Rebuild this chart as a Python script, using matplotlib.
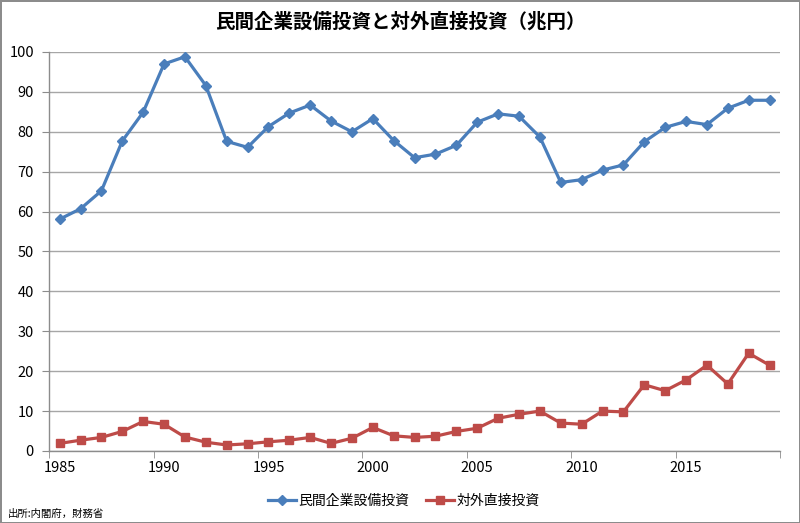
import matplotlib
matplotlib.use("Agg")
import matplotlib.pyplot as plt
import numpy as np

years = list(range(1985, 2020))

capex = [58.1, 60.7, 65.2, 77.7, 84.9, 97.0, 98.8, 91.6, 77.6, 76.1,
         81.3, 84.7, 86.7, 82.7, 80.0, 83.3, 77.8, 73.5, 74.4, 76.6,
         82.4, 84.5, 83.9, 78.7, 67.3, 68.0, 70.4, 71.7, 77.5, 81.1,
         82.6, 81.8, 85.9, 87.9, 87.9]

fdi = [1.9, 2.7, 3.4, 4.9, 7.4, 6.7, 3.5, 2.2, 1.5, 1.8,
       2.3, 2.7, 3.4, 1.9, 3.2, 5.9, 3.8, 3.4, 3.7, 4.9,
       5.7, 8.2, 9.2, 10.0, 7.0, 6.7, 10.0, 9.8, 16.6, 15.1,
       17.8, 21.5, 16.8, 24.5, 21.5]

label_years = [1985, 1990, 1995, 2000, 2005, 2010, 2015]
y_ticks = list(range(0, 101, 10))

title = "民間企業設備投資と対外直接投資（兆円）"
series_names = ["民間企業設備投資", "対外直接投資"]
source = "出所:内閣府，財務省"

plt.rcParams["font.family"] = ["Noto Sans CJK JP", "DejaVu Sans"]

fig = plt.figure(figsize=(8.0, 5.23), dpi=100)
fig.patch.set_edgecolor("#8c8c8c")
fig.patch.set_linewidth(2)
ax = fig.add_axes([0.0615, 0.1377, 0.9135, 0.7629])

ax.plot(years, capex, color="#4A7EBB", lw=2.3, marker="D", ms=5,
        label=series_names[0], zorder=3)
ax.plot(years, fdi, color="#BE4B48", lw=2.3, marker="s", ms=6,
        label=series_names[1], zorder=3)

ax.set_xlim(1984.5, 2019.5)
ax.set_ylim(0, 100)
ax.set_yticks(y_ticks)
ax.tick_params(axis="y", length=5, color="#8c8c8c", labelsize=10.5, pad=6)

ax.set_xticks(label_years)
ax.set_xticklabels([str(y) for y in label_years])
ax.tick_params(axis="x", which="major", length=0, labelsize=10.5, pad=7)
ax.set_xticks(np.arange(1984.5, 2020, 5), minor=True)
ax.tick_params(axis="x", which="minor", length=5, color="#8c8c8c")

ax.grid(axis="y", color="#a6a6a6", lw=1)
ax.set_axisbelow(True)
for side in ["top", "right"]:
    ax.spines[side].set_visible(False)
for side in ["left", "bottom"]:
    ax.spines[side].set_color("#8c8c8c")
    ax.spines[side].set_linewidth(1)

fig.text(0.5, 0.958, title, ha="center", va="center", fontsize=14,
         fontweight="bold")
fig.legend(loc="center", bbox_to_anchor=(0.505, 0.043), ncol=2, frameon=False,
           fontsize=10, handlelength=2.0, columnspacing=1.2, handletextpad=0.2)
fig.text(0.01, 0.018, source, ha="left", va="center", fontsize=7.5)

fig.savefig("out.png", dpi=100)
